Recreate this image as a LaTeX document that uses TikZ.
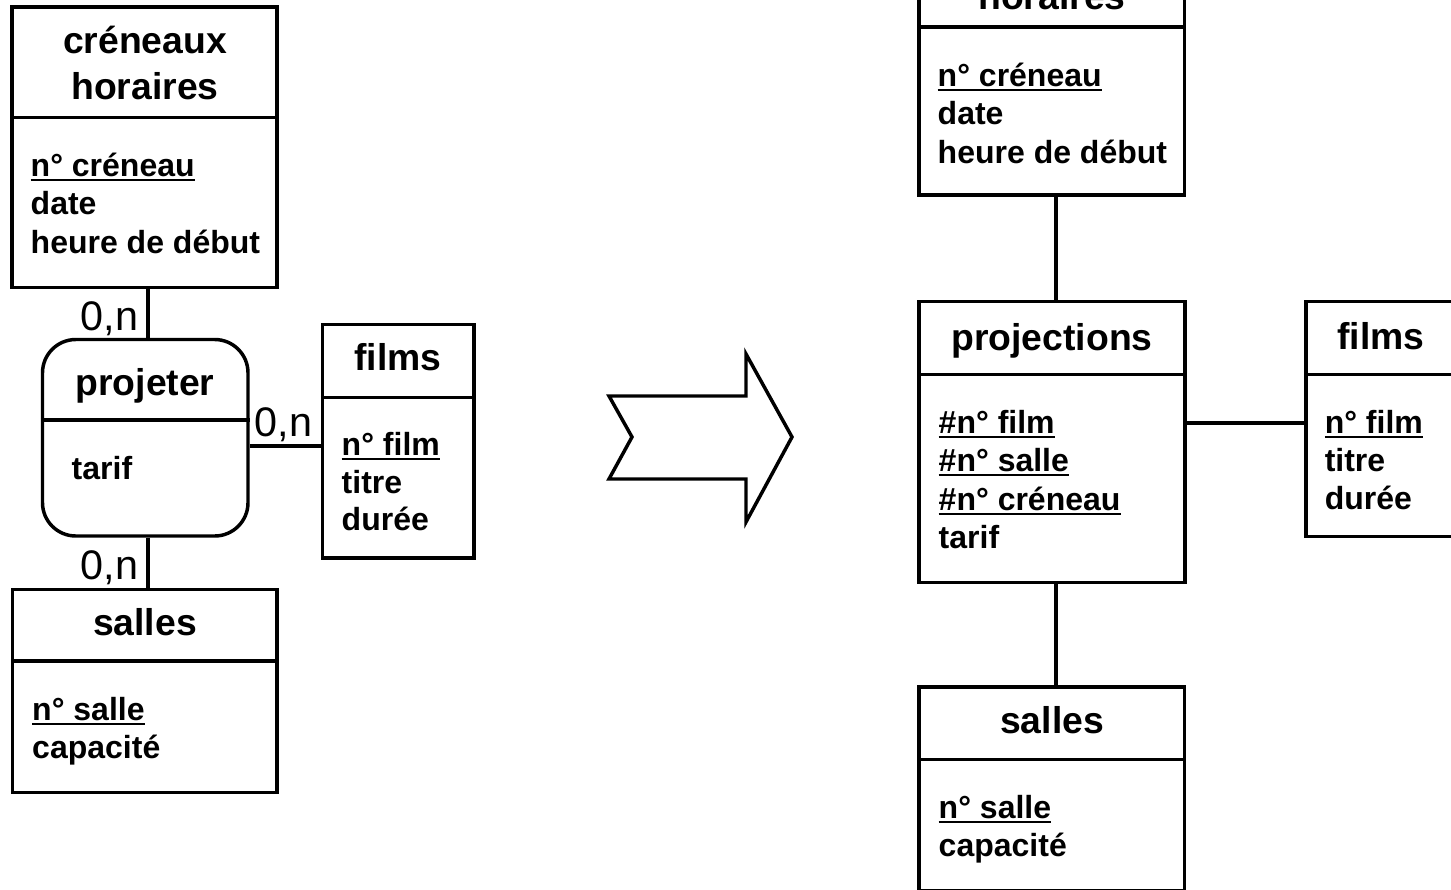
\documentclass[tikz,border=0pt]{standalone}
\usepackage{fontspec}
\setmainfont{Liberation Sans}
\usepackage{tikz}
\usetikzlibrary{fit}
\newsavebox\clebox
\newcommand{\cle}[1]{\sbox\clebox{#1}\rlap{\rule[-3.5pt]{\wd\clebox}{1.5pt}}\usebox\clebox}

\begin{document}
\begin{tikzpicture}[x=0.75pt,y=-0.75pt,line width=2.6pt,
    boite/.style={draw,rectangle,inner sep=0pt},
    titre/.style={font=\fontsize{28}{34}\selectfont\bfseries,anchor=base,inner sep=0pt},
    attr/.style={font=\fontsize{24}{29}\selectfont\bfseries,anchor=base west,inner sep=0pt},
    card/.style={font=\fontsize{31}{37}\selectfont,anchor=base east,inner sep=0pt}]
    \path[use as bounding box,fill=white] (0,0) rectangle (1451,889);
    \clip (0,0) rectangle (1451,889);
    \node[boite,fit={(12,7) (277,287.5)}] (ch) {};
    \node[boite,rounded corners=25pt,fit={(42.5,339.5) (248,536)}] (pj) {};
    \node[boite,fit={(322.5,324.5) (474,558)}] (fl) {};
    \node[boite,fit={(12.5,589.5) (277,792.5)}] (sl) {};
    \node[boite,fit={(919,-84) (1184.5,195)}] (cr) {};
    \node[boite,fit={(919,301.7) (1185,582.5)}] (pr) {};
    \node[boite,fit={(1306,301.7) (1456,536.7)}] (flr) {};
    \node[boite,fit={(919,687) (1184.5,891)}] (slr) {};
    \foreach \b/\y in {ch/117.5,pj/420,fl/397.5,sl/661,cr/27,pr/374.5,flr/374.5,slr/759.5}
      \draw (\b.west |- 0,\y) -- (\b.east |- 0,\y);
    \node[titre] (cht1) at (145,53) {créneaux};
    \node[titre] (cht2) at (145,99) {horaires};
    \foreach \a [count=\i from 0] in {\cle{n° créneau},date,heure de début}
      \node[attr] (cha\i) at (29,176+38.5*\i) {\a};
    \node[titre] (pjt) at (145,395) {projeter};
    \node[attr] (pja) at (70,479) {tarif};
    \node[titre] (flt) at (398,370) {films};
    \foreach \a [count=\i from 0] in {\cle{n° film},titre,durée}
      \node[attr] (fla\i) at (340,455.5+37.5*\i) {\a};
    \node[titre] (slt) at (145,635) {salles};
    \foreach \a [count=\i from 0] in {\cle{n° salle},capacité}
      \node[attr] (sla\i) at (30.5,720+38*\i) {\a};
    \draw (pj.north -| 148,0) -- (ch.south -| 148,0);
    \draw (pj.south -| 148,0) -- (sl.north -| 148,0);
    \draw (pj.east |- 0,446) -- (fl.west |- 0,446);
    \node[card] (c1) at (140,330) {0,n};
    \node[card] (c2) at (314,436) {0,n};
    \node[card] (c3) at (140,579) {0,n};
    \draw (609,396) -- (746,396) -- (746,354) -- (792,437) -- (746,522) -- (746,479)
      -- (609,479) -- (632,437) -- cycle;
    \node[titre] (crt1) at (1052,-37) {créneaux};
    \node[titre] (crt2) at (1052,9) {horaires};
    \foreach \a [count=\i from 0] in {\cle{n° créneau},date,heure de début}
      \node[attr] (cra\i) at (936,86+38.5*\i) {\a};
    \node[titre] (prt) at (1052,350) {projections};
    \foreach \a [count=\i from 0] in {\cle{\#n° film},\cle{\#n° salle},\cle{\#n° créneau},tarif}
      \node[attr] (pra\i) at (937,433.5+38.3*\i) {\a};
    \node[titre] (flrt) at (1381,349.5) {films};
    \foreach \a [count=\i from 0] in {\cle{n° film},titre,durée}
      \node[attr] (flra\i) at (1323,433.5+38*\i) {\a};
    \node[titre] (slrt) at (1052,733.5) {salles};
    \foreach \a [count=\i from 0] in {\cle{n° salle},capacité}
      \node[attr] (slra\i) at (937,818+38*\i) {\a};
    \draw (cr.south -| 1056,0) -- (pr.north -| 1056,0);
    \draw (pr.south -| 1056,0) -- (slr.north -| 1056,0);
    \draw (pr.east |- 0,423) -- (flr.west |- 0,423);
  \end{tikzpicture}
\end{document}
